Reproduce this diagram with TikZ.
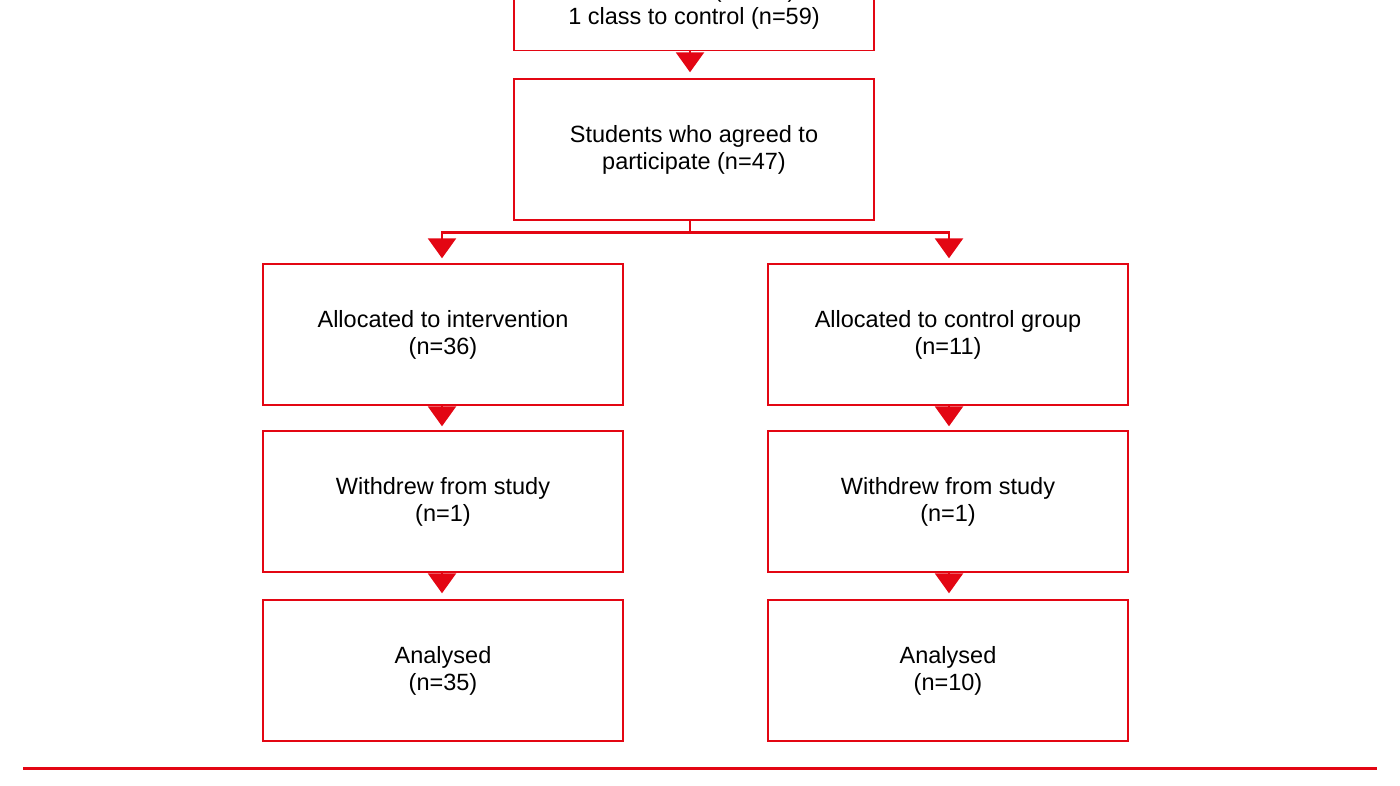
\documentclass[tikz,border=0pt]{standalone}
\usepackage{fontspec}
\setmainfont{Liberation Sans}
\usetikzlibrary{arrows.meta, positioning}
\definecolor{flowred}{RGB}{227,6,19}

\begin{document}
\begin{tikzpicture}[x=1pt, y=-1pt,
    box/.style={draw=flowred, line width=1.4pt, minimum width=360pt,
      minimum height=141pt, align=center, inner sep=0pt,
      font=\fontsize{23.5}{27}\selectfont},
    tip/.style={-{Triangle[width=28pt,length=20pt]}, draw=flowred,
      line width=2.6pt}]
  \useasboundingbox (0,0) rectangle (1400,786);
  \clip (0,0) rectangle (1400,786);
  % boxes
  \node[box, anchor=south, minimum height=91pt] (classes) at (694,51)
    {intervention (n=124),\\1 class to control (n=59)};
  \node[box] (agreed) at (694,149.5) {Students who agreed to\\participate (n=47)};
  \node[box] (int) at (443,334.5) {Allocated to intervention\\(n=36)};
  \node[box] (ctl) at (948,334.5) {Allocated to control group\\(n=11)};
  \node[box] (intw) at (443,501.5) {Withdrew from study\\(n=1)};
  \node[box] (ctlw) at (948,501.5) {Withdrew from study\\(n=1)};
  \node[box] (intan) at (443,670.5) {Analysed\\(n=35)};
  \node[box] (ctlan) at (948,670.5) {Analysed\\(n=10)};
  % arrows
  \draw[tip] ([xshift=-4pt]classes.south) -- ([xshift=-4pt, yshift=6pt]agreed.north);
  \draw[tip] ([xshift=-4pt]agreed.south) -- ++(0,12) -| ([xshift=-1pt, yshift=5pt]int.north);
  \draw[tip] ([xshift=-4pt]agreed.south) -- ++(0,12) -| ([xshift=1pt, yshift=5pt]ctl.north);
  \draw[tip] ([xshift=-1pt]int.south) -- ([xshift=-1pt, yshift=4pt]intw.north);
  \draw[tip] ([xshift=1pt]ctl.south) -- ([xshift=1pt, yshift=4pt]ctlw.north);
  \draw[tip] ([xshift=-1pt]intw.south) -- ([xshift=-1pt, yshift=6pt]intan.north);
  \draw[tip] ([xshift=1pt]ctlw.south) -- ([xshift=1pt, yshift=6pt]ctlan.north);
  % rule
  \draw[flowred, line width=3pt] (23,768) -- (1377,768);
\end{tikzpicture}
\end{document}
